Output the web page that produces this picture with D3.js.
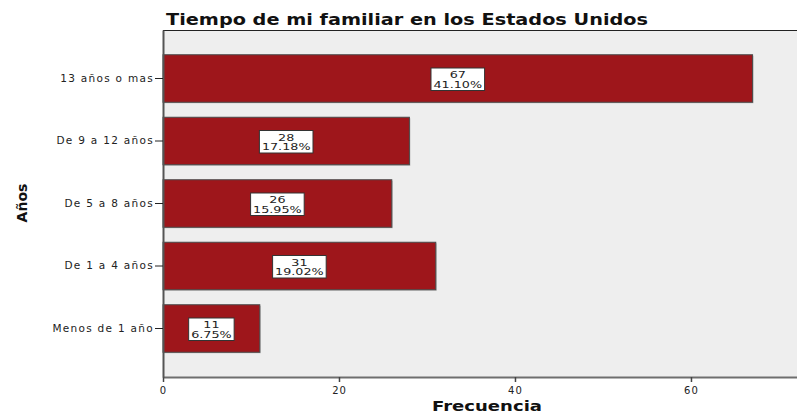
<!DOCTYPE html>
<html><head><meta charset="utf-8">
<script src="https://cdn.jsdelivr.net/npm/d3@7"></script>
<style>body{margin:0;background:#fff}svg{display:block}text{font-family:"DejaVu Sans",Verdana,sans-serif}</style>
</head><body>
<svg id="c" width="797" height="415"></svg>
<script>
const categories = ["13 años o mas","De 9 a 12 años","De 5 a 8 años","De 1 a 4 años","Menos de 1 año"];
const counts = [67, 28, 26, 31, 11];
const percents = ["41.10%","17.18%","15.95%","19.02%","6.75%"];
const xTicks = [0, 20, 40, 60];
const title = "Tiempo de mi familiar en los Estados Unidos";
const xTitle = "Frecuencia";
const yTitle = "Años";

const svg = d3.select("#c");
const L = 163, R = 797, T = 30, B = 377;
const x = d3.scaleLinear().domain([0, 72.05]).range([L, R]);
const y = d3.scaleBand().domain(categories).range([T, B]).paddingInner(0.24).paddingOuter(0.396);

svg.append("rect").attr("x", L).attr("y", T).attr("width", R - L).attr("height", B - T).attr("fill", "#eeeeee");
svg.append("line").attr("x1", L).attr("x2", R).attr("y1", T + 0.5).attr("y2", T + 0.5).attr("stroke", "#222").attr("stroke-width", 1.2);

const data = categories.map((c, i) => ({c, v: counts[i], p: percents[i]}));

svg.selectAll(".sh").data(data).join("rect")
  .attr("x", x(0) + 1).attr("y", d => y(d.c) + 1)
  .attr("width", d => x(d.v) - x(0)).attr("height", y.bandwidth())
  .attr("fill", "#9a9a9a").attr("opacity", 0.6);
svg.selectAll(".bar").data(data).join("rect")
  .attr("x", x(0)).attr("y", d => y(d.c))
  .attr("width", d => x(d.v) - x(0)).attr("height", y.bandwidth())
  .attr("fill", "#9e161b").attr("stroke", "#4a4a4a").attr("stroke-width", 1);

const xa = svg.append("g").attr("transform", `translate(0,${B})`)
  .call(d3.axisBottom(x).tickValues(xTicks).tickSize(5).tickSizeOuter(0));
xa.select(".domain").attr("stroke", "#6e6e6e").attr("stroke-width", 2);
xa.selectAll(".tick line").attr("stroke", "#444").attr("stroke-width", 1.5);
xa.selectAll(".tick text").attr("font-size", 10).attr("fill", "#222").attr("font-family", "DejaVu Sans")
  .attr("letter-spacing", "1px").attr("dy", "0.85em");

const ya = svg.append("g").attr("transform", `translate(${L},0)`)
  .call(d3.axisLeft(y).tickSize(8).tickSizeOuter(0).tickPadding(1));
ya.select(".domain").attr("stroke", "#555").attr("stroke-width", 2);
ya.selectAll(".tick line").attr("stroke", "#222");
ya.selectAll(".tick text").attr("font-size", 10.5).attr("fill", "#222").attr("font-family", "DejaVu Sans")
  .attr("letter-spacing", "1.3px");

const lg = svg.selectAll(".lab").data(data).join("g")
  .attr("transform", d => `translate(${(x(0) + x(d.v)) / 2},${y(d.c) + y.bandwidth() / 2})`);
lg.each(function(d) {
  const g = d3.select(this);
  const r = g.append("rect").attr("fill", "#fff").attr("stroke", "#333").attr("stroke-width", 1);
  const tg = g.append("g").attr("transform", "scale(1.5,1)");
  const t1 = tg.append("text").attr("text-anchor", "middle").attr("y", -0.5).attr("font-size", 8.5).attr("fill", "#222").text(d.v);
  const t2 = tg.append("text").attr("text-anchor", "middle").attr("y", 9.3).attr("font-size", 8.5).attr("fill", "#222").text(d.p);
  const w = Math.max(t1.node().getComputedTextLength(), t2.node().getComputedTextLength()) * 1.5 + 5;
  r.attr("x", -w / 2).attr("y", -10.5).attr("width", w).attr("height", 22.5);
});

svg.append("text").attr("x", 166).attr("y", 25).attr("font-size", 15).attr("font-weight", "bold").attr("fill", "#111")
  .attr("textLength", 482).attr("lengthAdjust", "spacingAndGlyphs").text(title);
svg.append("text").attr("x", 487).attr("y", 411).attr("text-anchor", "middle").attr("font-size", 14).attr("font-weight", "bold").attr("fill", "#111")
  .attr("textLength", 110).attr("lengthAdjust", "spacingAndGlyphs").text(xTitle);
svg.append("text").attr("transform", "translate(27,203) rotate(-90)").attr("text-anchor", "middle")
  .attr("font-size", 14).attr("font-weight", "bold").attr("font-family", "DejaVu Sans Condensed").attr("fill", "#111").text(yTitle);
</script>
</body></html>
